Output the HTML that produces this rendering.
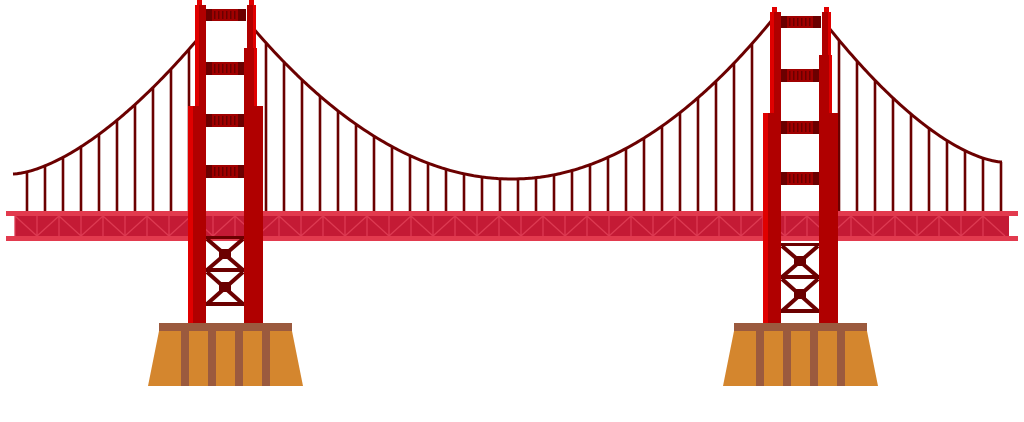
<!DOCTYPE html>
<html><head><meta charset="utf-8"><style>
html,body{margin:0;padding:0;background:#fff;width:1024px;height:422px;overflow:hidden}
svg{display:block}
</style></head><body>
<svg id="s" width="1024" height="422" viewBox="0 0 1024 422" xmlns="http://www.w3.org/2000/svg">
<g id="cables"></g>
<g id="deck">
  <rect x="6" y="211" width="1012" height="5" fill="#e23a4e"/>
  <rect x="15" y="216" width="994" height="20" fill="#c41a35"/>
  <rect x="6" y="236" width="1012" height="5" fill="#e23a4e"/>
  <g id="truss" stroke="#dd3a52" stroke-width="1.3"></g>
</g>
<g id="towers"></g>
</svg>
<script>
const NS='http://www.w3.org/2000/svg';
function mk(tag,attrs,parent){const e=document.createElementNS(NS,tag);for(const k in attrs)e.setAttribute(k,attrs[k]);parent.appendChild(e);return e;}
const cab=document.getElementById('cables');
const C='#6b0000';
function leftSide(x){return 174-134*Math.pow((x-13)/184,1.6);}
function mainSpan(x){const vx=512,vy=179;return x<vx? vy-0.00225*(x-vx)*(x-vx) : vy-0.00235*(x-vx)*(x-vx);}
function rightSide(x){return 162-134*Math.pow((1002-x)/173,1.6);}
function curve(f,x0,x1){let d='';for(let x=x0;x<=x1;x+=2){d+=(d?'L':'M')+x+','+f(x).toFixed(1);}return d;}
let p=mk('path',{d:curve(leftSide,13,197),fill:'none',stroke:C,'stroke-width':3},cab);

p=mk('path',{d:curve(mainSpan,252,772),fill:'none',stroke:C,'stroke-width':3},cab);

p=mk('path',{d:curve(rightSide,828,1002),fill:'none',stroke:C,'stroke-width':3},cab);

function hangers(f,x0,x1){for(let x=x0;x<=x1;x+=18){const h=mk('line',{x1:x,x2:x,y1:f(x),y2:212,stroke:C,'stroke-width':2.6},cab);
}}
hangers(leftSide,27,189);
hangers(mainSpan,266,760);
hangers(rightSide,839,1001);
const tr=document.getElementById('truss');
let i=0;
for(let x=15;x+22<=1010;x+=22,i++){
  mk('line',{x1:x,x2:x,y1:216,y2:236},tr);
  if(i%2==0) mk('line',{x1:x,y1:216,x2:x+22,y2:236},tr);
  else mk('line',{x1:x,y1:236,x2:x+22,y2:216},tr);
}
const tw=document.getElementById('towers');
function tower(dx,dy,name){
  const g=mk('g',{transform:`translate(${dx},${dy})`},tw);
  
  const D='#6b0000',R='#b00000',B='#e00000';
  [[9,21],[62,75],[114,127],[165,178]].forEach(([a,b])=>{
    mk('rect',{x:204,y:a,width:42,height:b-a,fill:'#a00000'},g);
    mk('rect',{x:204,y:a,width:8,height:b-a,fill:D},g);
    mk('rect',{x:238,y:a,width:8,height:b-a,fill:D},g);
    for(let x=214;x<238;x+=4) mk('rect',{x:x,y:a+2,width:1.5,height:b-a-4,fill:D},g);
  });
  mk('rect',{x:205,y:236,width:40,height:3,fill:D},g);
  mk('rect',{x:205,y:268,width:40,height:4,fill:D},g);
  mk('rect',{x:205,y:302,width:40,height:4,fill:D},g);
  mk('path',{d:'M207,239L243,270M243,239L207,270M207,272L243,304M243,272L207,304',stroke:D,'stroke-width':4,fill:'none'},g);
  mk('rect',{x:219,y:249,width:12,height:10,fill:D},g);
  mk('rect',{x:219,y:282,width:12,height:10,fill:D},g);
  mk('rect',{x:197,y:0,width:5,height:12,fill:B},g);
  mk('rect',{x:249,y:0,width:5,height:12,fill:B},g);
  mk('rect',{x:195,y:5,width:11,height:101,fill:R},g);
  mk('rect',{x:195,y:5,width:4,height:101,fill:B},g);
  mk('rect',{x:188,y:106,width:18,height:230,fill:R},g);
  mk('rect',{x:188,y:106,width:5,height:230,fill:B},g);
  mk('rect',{x:247,y:5,width:9,height:45,fill:R},g);
  mk('rect',{x:253,y:5,width:3,height:45,fill:B},g);
  mk('rect',{x:244,y:48,width:13,height:60,fill:R},g);
  mk('rect',{x:254,y:48,width:3,height:60,fill:B},g);
  mk('rect',{x:244,y:106,width:19,height:230,fill:R},g);
}
tower(0,0,'left-tower');
tower(575,7,'right-tower');
function base(x0,name){
  const g=mk('g',{},tw);
  
  mk('path',{d:`M${x0+11},331L${x0+144},331L${x0+155},386L${x0},386Z`,fill:'#d4862e'},g);
  mk('rect',{x:x0+11,y:323,width:133,height:8,fill:'#9b5a3e'},g);
  [33,60,87,114].forEach(o=>mk('rect',{x:x0+o,y:331,width:8,height:55,fill:'#9b5a3e'},g));
}
base(148,'left-tower-base');
base(723,'right-tower-base');
</script>
</body></html>
